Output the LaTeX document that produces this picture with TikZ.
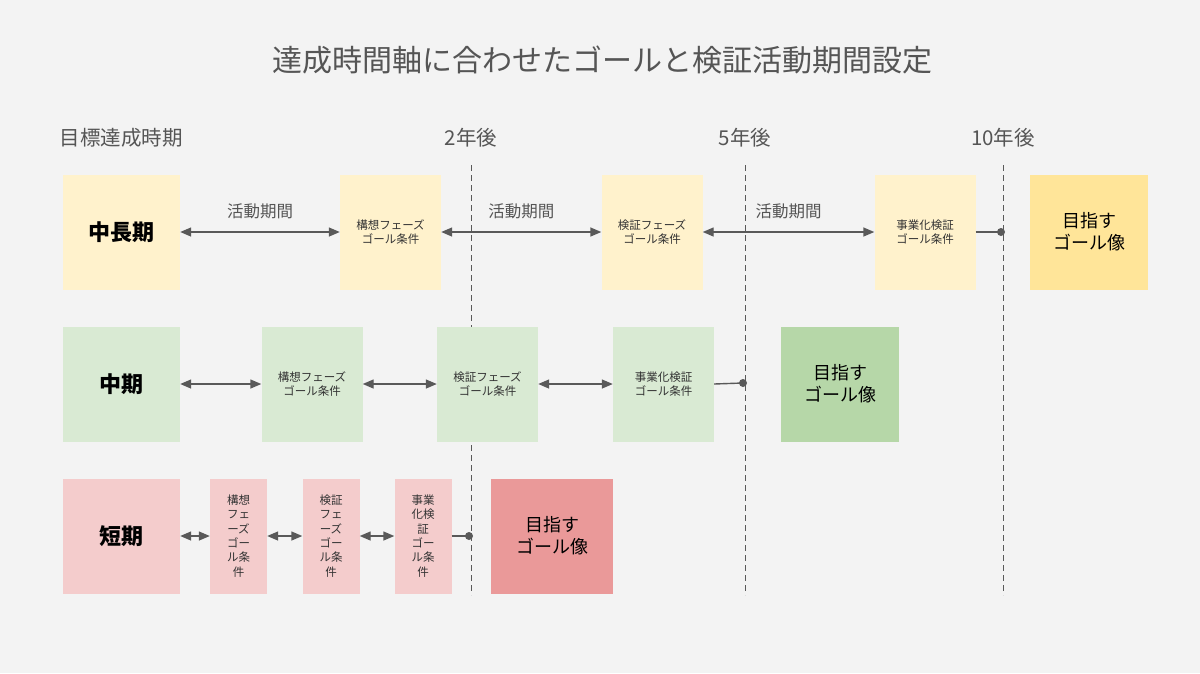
\documentclass[tikz,border=0pt]{standalone}
\usepackage{fontspec}
\setmainfont{Noto Sans CJK JP}
\usetikzlibrary{arrows.meta}
\definecolor{bg}{HTML}{F3F3F3}
\definecolor{ylight}{HTML}{FFF2CC}
\definecolor{ydark}{HTML}{FFE599}
\definecolor{glight}{HTML}{D9EAD3}
\definecolor{gdark}{HTML}{B6D7A8}
\definecolor{plight}{HTML}{F4CCCC}
\definecolor{pdark}{HTML}{EA9999}
\definecolor{linec}{HTML}{595959}
\definecolor{titlec}{HTML}{555555}
\definecolor{smallc}{HTML}{333333}
\tikzset{
  box/.style={rectangle, inner sep=0pt, minimum height=115pt, align=center},
  termbox/.style={box, minimum width=117pt, font=\fontsize{22}{26}\selectfont\bfseries, text=black},
  phasebox/.style={box, minimum width=101pt, font=\fontsize{11.5}{14.5}\selectfont, text=smallc},
  narrowbox/.style={box, minimum width=57pt, font=\fontsize{11.5}{14.3}\selectfont, text=smallc},
  goalbox/.style={box, minimum width=118pt, font=\fontsize{18}{22}\selectfont, text=black},
  dbl/.style={draw=linec, line width=1.4pt, {Triangle[length=11pt,width=9pt]}-{Triangle[length=11pt,width=9pt]}},
  conn/.style={draw=linec, line width=1.4pt},
  dashline/.style={draw=linec, line width=1pt, dash pattern=on 6pt off 4pt},
  actlabel/.style={font=\fontsize{16.5}{19}\selectfont, text=titlec},
  header/.style={font=\fontsize{20.5}{24}\selectfont, text=titlec},
}
\begin{document}
\begin{tikzpicture}[x=1pt,y=-1pt]
\fill[bg] (0,0) rectangle (1200,673);
\useasboundingbox (0,0) rectangle (1200,673);

% title
\node[font=\fontsize{30}{35}\selectfont, text=titlec] (title) at (602,60) {達成時間軸に合わせたゴールと検証活動期間設定};

% headers
\node[header, anchor=west] (h0) at (56,138) {目標達成時期};
\node[header] (h2) at (471,138) {2年後};
\node[header] (h5) at (745,138) {5年後};
\node[header] (h10) at (1003,138) {10年後};

% dashed lines
\coordinate (t2) at (471,165); \coordinate (b2) at (471,595);
\coordinate (t5) at (745,165); \coordinate (b5) at (745,595);
\coordinate (t10) at (1003,165); \coordinate (b10) at (1003,595);
\draw[dashline] (t2) -- (b2);
\draw[dashline] (t5) -- (b5);
\draw[dashline] (t10) -- (b10);

% row 1
\node[termbox, fill=ylight] (r1t) at (121.5,232) {中長期};
\node[phasebox, fill=ylight] (r1a) at (390.5,232) {構想フェーズ\\ゴール条件};
\node[phasebox, fill=ylight] (r1b) at (652,232) {検証フェーズ\\ゴール条件};
\node[phasebox, fill=ylight] (r1c) at (925,232) {事業化検証\\ゴール条件};
\node[goalbox, fill=ydark] (r1g) at (1089,232) {目指す\\ゴール像};
\draw[dbl] (r1t.east) -- (r1a.west) node[midway, above=9pt, actlabel] {活動期間};
\draw[dbl] (r1a.east) -- (r1b.west) node[midway, above=9pt, actlabel] {活動期間};
\draw[dbl] (r1b.east) -- (r1c.west) node[midway, above=9pt, actlabel] {活動期間};
\coordinate (d1) at (1001,232);
\draw[conn] (r1c.east) -- (d1);
\fill[linec] (d1) circle (4pt);

% row 2
\node[termbox, fill=glight] (r2t) at (121.5,384) {中期};
\node[phasebox, fill=glight] (r2a) at (312,384) {構想フェーズ\\ゴール条件};
\node[phasebox, fill=glight] (r2b) at (487.5,384) {検証フェーズ\\ゴール条件};
\node[phasebox, fill=glight] (r2c) at (663.5,384) {事業化検証\\ゴール条件};
\node[goalbox, fill=gdark] (r2g) at (840,384) {目指す\\ゴール像};
\draw[dbl] (r2t.east) -- (r2a.west);
\draw[dbl] (r2a.east) -- (r2b.west);
\draw[dbl] (r2b.east) -- (r2c.west);
\coordinate (d2) at (743,383);
\draw[conn] (r2c.east) -- (d2);
\fill[linec] (d2) circle (4pt);

% row 3
\node[termbox, fill=plight] (r3t) at (121.5,536) {短期};
\node[narrowbox, fill=plight] (r3a) at (238.5,536) {構想\\フェ\\ーズ\\ゴー\\ル条\\件};
\node[narrowbox, fill=plight] (r3b) at (331,536) {検証\\フェ\\ーズ\\ゴー\\ル条\\件};
\node[narrowbox, fill=plight] (r3c) at (423,536) {事業\\化検\\証\\ゴー\\ル条\\件};
\node[goalbox, minimum width=122pt, fill=pdark] (r3g) at (552,536) {目指す\\ゴール像};
\draw[dbl] (r3t.east) -- (r3a.west);
\draw[dbl] (r3a.east) -- (r3b.west);
\draw[dbl] (r3b.east) -- (r3c.west);
\coordinate (d3) at (469,536);
\draw[conn] (r3c.east) -- (d3);
\fill[linec] (d3) circle (4pt);
\end{tikzpicture}
\end{document}
